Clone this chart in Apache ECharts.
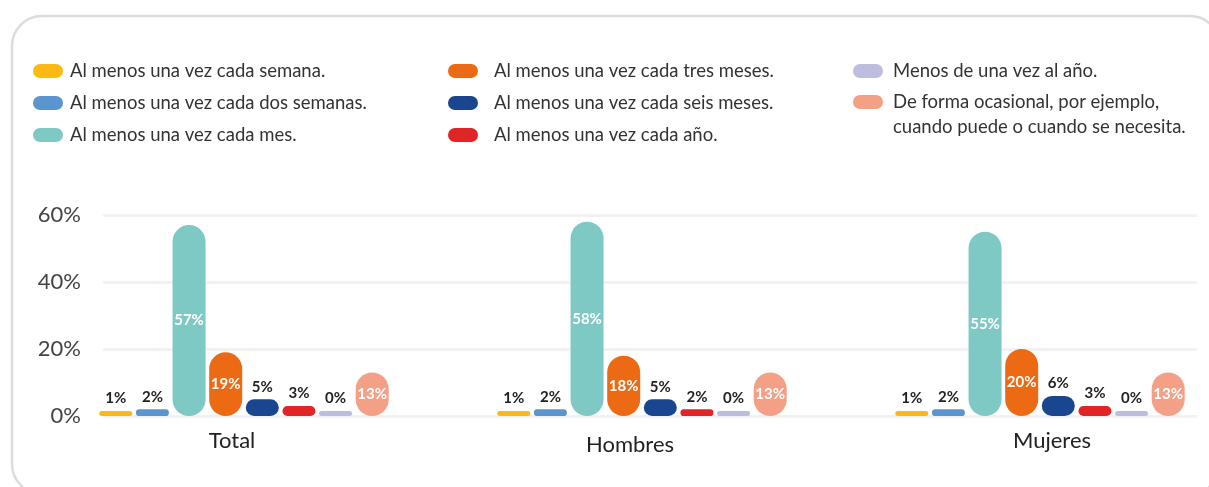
<!DOCTYPE html>
<html>
<head>
<meta charset="utf-8">
<script src="https://cdn.jsdelivr.net/npm/echarts@6/dist/echarts.min.js"></script>
<style>
  html, body { margin: 0; padding: 0; background: #fff; }
  #chart { width: 1209px; height: 487px; }
</style>
</head>
<body>
<div id="chart"></div>
<script>
  // datos
  var groups = ['Total', 'Hombres', 'Mujeres'];
  var seriesNames = [
    'Al menos una vez cada semana.',
    'Al menos una vez cada dos semanas.',
    'Al menos una vez cada mes.',
    'Al menos una vez cada tres meses.',
    'Al menos una vez cada seis meses.',
    'Al menos una vez cada año.',
    'Menos de una vez al año.',
    'De forma ocasional, por ejemplo,\ncuando puede o cuando se necesita.'
  ];
  var semana = [1, 1, 1];
  var dosSemanas = [2, 2, 2];
  var mes = [57, 58, 55];
  var tresMeses = [19, 18, 20];
  var seisMeses = [5, 5, 6];
  var anio = [3, 2, 3];
  var menosAnio = [0, 0, 0];
  var ocasional = [13, 13, 13];
  var yTicks = [0, 20, 40, 60];

  var values = [semana, dosSemanas, mes, tresMeses, seisMeses, anio, menosAnio, ocasional];
  var colors = ['#FDB913', '#5B95D0', '#7EC9C3', '#EC6A13', '#1A4690', '#E22426', '#BDBDE0', '#F4A087'];
  var font = 'Lato, "Open Sans", sans-serif';
  var capsule = 'path://M7,0 H23 A7,7 0 0 1 23,14 H7 A7,7 0 0 1 7,0 Z';

  var chart = echarts.init(document.getElementById('chart'));

  function legendBox(names, left, top, padLeft, lineHeight, leadBreak) {
    return {
      data: names,
      orient: 'vertical',
      left: left,
      top: top,
      padding: 0,
      itemGap: 12,
      itemWidth: 30,
      itemHeight: 15,
      icon: capsule,
      selectedMode: false,
      // salto inicial: la primera línea queda alineada con la cápsula
      formatter: leadBreak ? function (n) { return '\n' + n; } : '{name}',
      textStyle: {
        fontFamily: font,
        fontSize: 18.5,
        color: '#333',
        lineHeight: lineHeight,
        padding: [0, 0, 0, padLeft]
      }
    };
  }

  var series = values.map(function (arr, i) {
    return {
      name: seriesNames[i],
      type: 'bar',
      xAxisIndex: 1,
      yAxisIndex: 1,
      barWidth: 33,
      barGap: '11%',
      barMinHeight: 5,
      itemStyle: { color: colors[i], borderRadius: 16.5 },
      label: {
        show: true,
        position: 'top',
        distance: 5,
        formatter: '{c}%',
        fontFamily: font,
        fontSize: 15,
        fontWeight: 'bold',
        color: '#222'
      },
      data: arr.map(function (v) {
        if (v >= 10) {
          return { value: v, label: { position: 'inside', color: '#fff' } };
        }
        return v;
      })
    };
  });

  var option = {
    backgroundColor: '#fff',
    animation: false,
    graphic: [{
      type: 'rect',
      shape: { x: 12, y: 16, width: 1208, height: 478, r: 30 },
      style: { fill: 'none', stroke: '#dcdcdc', lineWidth: 2.5 },
      silent: true,
      z: -10
    }],
    legend: [
      legendBox(seriesNames.slice(0, 3), 33, 61, 2, 20, false),
      legendBox(seriesNames.slice(3, 6), 448, 61, 11, 20, false),
      legendBox(seriesNames.slice(6, 7), 853, 61, 5, 20, false),
      legendBox(seriesNames.slice(7, 8), 853, 64.5, 5, 25, true)
    ],
    grid: [
      { left: 103, right: 12, top: 215, bottom: 71, outerBoundsMode: 'none' },
      { left: 45, width: 1194, top: 215, bottom: 71, outerBoundsMode: 'none' }
    ],
    xAxis: [
      { type: 'category', gridIndex: 0, data: groups, show: false },
      {
        type: 'category',
        gridIndex: 1,
        data: [
          { value: groups[0], textStyle: { padding: [0, 24, 0, 0] } },
          { value: groups[1], textStyle: { padding: [4, 24, 0, 0] } },
          { value: groups[2], textStyle: { padding: [0, 0, 8, 24] } }
        ],
        axisLine: { show: false },
        axisTick: { show: false },
        axisLabel: { margin: 14, fontFamily: font, fontSize: 22, color: '#222' }
      }
    ],
    yAxis: [
      {
        type: 'value',
        gridIndex: 0,
        min: yTicks[0],
        max: yTicks[yTicks.length - 1],
        interval: yTicks[1] - yTicks[0],
        axisLine: { show: false },
        axisTick: { show: false },
        axisLabel: { formatter: '{value}%', margin: 22, fontFamily: font, fontSize: 22, color: '#444' },
        splitLine: { lineStyle: { color: '#f2f2f2', width: 3 } }
      },
      {
        type: 'value',
        gridIndex: 1,
        min: yTicks[0],
        max: yTicks[yTicks.length - 1],
        show: false
      }
    ],
    series: series
  };

  chart.setOption(option);
</script>
</body>
</html>
